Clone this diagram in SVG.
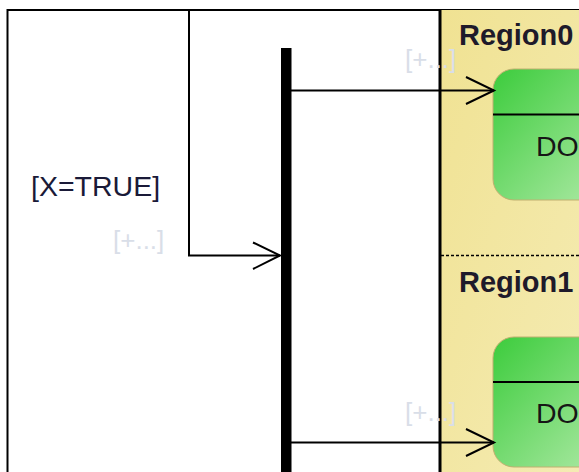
<svg xmlns="http://www.w3.org/2000/svg" width="579" height="472" viewBox="0 0 579 472">
  <style>
    .conn { fill: none; stroke: #000; stroke-width: 2; }
    .head { fill: none; stroke: #000; stroke-width: 2; stroke-linejoin: miter; }
    .hint { font-family: "Liberation Sans", Arial, sans-serif; font-size: 26px; fill: #d9dee8; }
    .guard { font-family: "Liberation Sans", Arial, sans-serif; font-size: 28.5px; fill: #1a1a38; }
    .rname { font-family: "Liberation Sans", Arial, sans-serif; font-size: 29px; font-weight: bold; fill: #1e1a2a; }
    .act { font-family: "Liberation Sans", Arial, sans-serif; font-size: 28.5px; fill: #161616; }
    .state { fill: url(#green); stroke: #c0b070; stroke-width: 1; }
    .sep { stroke: #000; stroke-width: 2; }
  </style>
  <defs>
    <linearGradient id="green" x1="0" y1="0" x2="1" y2="1">
      <stop offset="0" stop-color="#3ccc3c"/>
      <stop offset="1" stop-color="#b0eaa8"/>
    </linearGradient>
    <linearGradient id="yellow" x1="0" y1="0" x2="1" y2="1">
      <stop offset="0" stop-color="#f0e292"/>
      <stop offset="1" stop-color="#f5ecb6"/>
    </linearGradient>
  </defs>
  <rect x="0" y="0" width="579" height="472" fill="#fff"/>

  <g id="frame">
    <rect x="7.5" y="10" width="600" height="500" fill="none" stroke="#000" stroke-width="2"/>
  </g>

  <g id="orthogonal-state">
    <rect x="440" y="10" width="160" height="480" fill="url(#yellow)"/>
    <line x1="440" y1="9" x2="440" y2="472" stroke="#000" stroke-width="3"/>
    <line x1="441" y1="255.5" x2="579" y2="255.5" stroke="#000" stroke-width="1.5" stroke-dasharray="3,2"/>
  </g>

  <g id="region0">
    <text class="rname" x="459" y="45">Region0</text>
  </g>
  <g id="region1">
    <text class="rname" x="459" y="292">Region1</text>
  </g>

  <g id="state0">
    <rect class="state" x="493" y="69" width="120" height="131" rx="21" ry="21"/>
    <line class="sep" x1="493" y1="114.5" x2="579" y2="114.5"/>
    <text class="act" x="536" y="156">DO</text>
  </g>

  <g id="state1">
    <rect class="state" x="493" y="337" width="120" height="130" rx="21" ry="21"/>
    <line class="sep" x1="493" y1="382" x2="579" y2="382"/>
    <text class="act" x="536" y="423">DO</text>
  </g>

  <g id="fork-bar">
    <rect x="281" y="48" width="10.5" height="430" fill="#000"/>
  </g>

  <g id="connectors">
    <polyline class="conn" points="189,10 189,255.5 280,255.5"/>
    <polyline class="head" points="253,242.5 280,255.5 253,269"/>
    <line class="conn" x1="291" y1="90.5" x2="494" y2="90.5"/>
    <polyline class="head" points="466,77 494,90.5 466,104"/>
    <line class="conn" x1="291" y1="442.5" x2="494" y2="442.5"/>
    <polyline class="head" points="466,429 494,442.5 466,456"/>
  </g>

  <g id="labels">
    <text class="guard" x="31" y="196">[X=TRUE]</text>
    <text class="hint" x="113" y="249">[+...]</text>
    <text class="hint" x="405" y="68">[+...]</text>
    <text class="hint" x="405" y="421">[+...]</text>
  </g>
</svg>
